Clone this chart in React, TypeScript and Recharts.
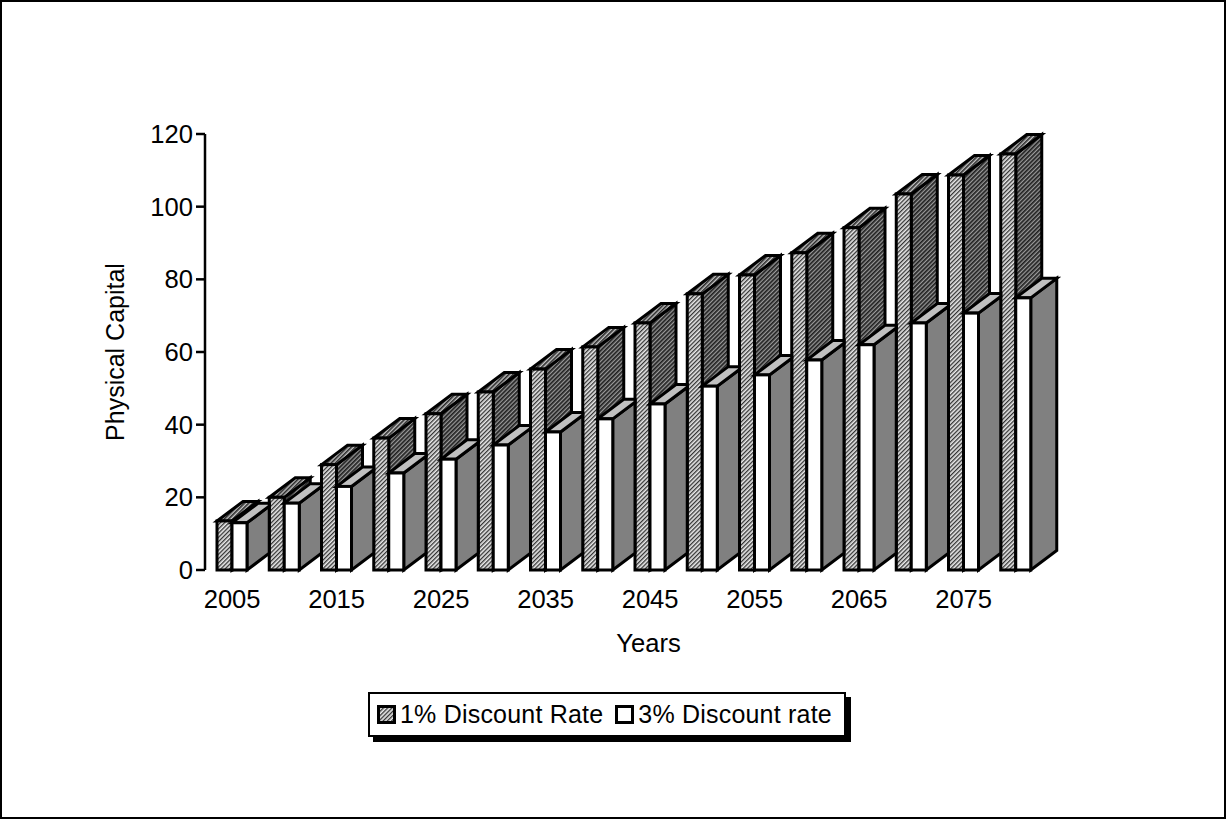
import { ComposedChart, Bar, XAxis, YAxis, Legend, Label } from 'recharts';

const years = [2005, 2010, 2015, 2020, 2025, 2030, 2035, 2040, 2045, 2050, 2055, 2060, 2065, 2070, 2075, 2080];
const rateOne = [13.5, 20, 29, 36.3, 43, 49, 55.3, 61.4, 68, 76, 81.2, 87.3, 94.2, 103.5, 108.7, 114.5];
const rateThree = [13, 18.4, 23, 26.7, 30.5, 34.4, 38, 41.6, 45.7, 50.6, 53.7, 57.8, 62, 68, 70.7, 74.9];
const yTicks = [0, 20, 40, 60, 80, 100, 120];

const data = years.map((year, i) => ({ year, rateOne: rateOne[i], rateThree: rateThree[i] }));

const FONT = '"Liberation Sans", Arial, sans-serif';
const BAR_W = 15;
const DEPTH_X = 26;
const DEPTH_Y = 19.5;
const BAND = 52.25;
const EDGE = 3;

const pts = (list: number[][]) => list.map((p) => p.join(',')).join(' ');

// 1% bars: hatched front, darker hatch on the top and side faces
function HatchedBox({ x, y, width, height }: any) {
  const r = x + width;
  const b = y + height;
  return (
    <g stroke="#000" strokeWidth={EDGE} strokeLinejoin="miter">
      <polygon points={pts([[r, y], [r + DEPTH_X, y - DEPTH_Y], [r + DEPTH_X, b - DEPTH_Y], [r, b]])} fill="url(#hatchSide)" />
      <polygon points={pts([[x, y], [r, y], [r + DEPTH_X, y - DEPTH_Y], [x + DEPTH_X, y - DEPTH_Y]])} fill="url(#hatchTop)" />
      <rect x={x} y={y} width={width} height={height} fill="url(#hatchFront)" />
    </g>
  );
}

// 3% bars: the receding faces stop at the left edge of the next year's bar
function PlainBox({ x, y, width, height, index }: any) {
  const r = x + width;
  const b = y + height;
  const last = index === years.length - 1;
  const dx = last ? DEPTH_X : BAND - 2 * BAR_W;
  const dy = (dx / DEPTH_X) * DEPTH_Y;
  const topFace = last
    ? [[x, y], [r, y], [r + DEPTH_X, y - DEPTH_Y], [x + DEPTH_X, y - DEPTH_Y]]
    : [[x, y], [r, y], [r + dx, y - dy], [r + dx, y - DEPTH_Y], [x + DEPTH_X, y - DEPTH_Y]];
  return (
    <g stroke="#000" strokeWidth={EDGE} strokeLinejoin="miter">
      <polygon points={pts([[r, y], [r + dx, y - dy], [r + dx, b - dy], [r, b]])} fill="#808080" />
      <polygon points={pts(topFace)} fill="#c0c0c0" />
      <rect x={x} y={y} width={width} height={height} fill="#fff" />
    </g>
  );
}

function LegendBox() {
  const item = (fill: string, text: string) => (
    <span style={{ display: 'flex', alignItems: 'center', marginRight: 12 }}>
      <svg width={20} height={20} style={{ marginRight: 3 }}>
        <rect x={1.5} y={1.5} width={16} height={16} fill={fill} stroke="#000" strokeWidth={EDGE} />
      </svg>
      {text}
    </span>
  );
  return (
    <div
      style={{
        boxSizing: 'border-box',
        width: 478,
        height: 45,
        border: '2px solid #000',
        boxShadow: '5px 5px 0 #000',
        background: '#fff',
        display: 'flex',
        alignItems: 'center',
        paddingLeft: 7,
        fontFamily: FONT,
        fontSize: 25,
        letterSpacing: 0.2,
        color: '#000',
      }}
    >
      {item('url(#hatchFront)', '1% Discount Rate')}
      {item('#fff', '3% Discount rate')}
    </div>
  );
}

export default function App() {
  return (
    <div style={{ position: 'fixed', left: 0, top: 0, width: 1226, height: 819, boxSizing: 'border-box', border: '2px solid #000', background: '#fff' }}>
      <svg width={0} height={0} style={{ position: 'absolute' }}>
        <defs>
          <pattern id="hatchFront" width={3} height={3} patternUnits="userSpaceOnUse" patternTransform="rotate(45)">
            <rect width={3} height={3} fill="#e8e8e8" />
            <rect width={1.3} height={3} fill="#333" />
          </pattern>
          <pattern id="hatchTop" width={3} height={3} patternUnits="userSpaceOnUse" patternTransform="rotate(45)">
            <rect width={3} height={3} fill="#c4c4c4" />
            <rect width={1.6} height={3} fill="#2a2a2a" />
          </pattern>
          <pattern id="hatchSide" width={3} height={3} patternUnits="userSpaceOnUse" patternTransform="rotate(45)">
            <rect width={3} height={3} fill="#9a9a9a" />
            <rect width={1.7} height={3} fill="#202020" />
          </pattern>
        </defs>
      </svg>
      <ComposedChart
        width={1222}
        height={815}
        data={data}
        barSize={BAR_W}
        barGap={0}
        margin={{ top: 132, right: 182, bottom: 122, left: 143 }}
        style={{ fontFamily: FONT }}
      >
        <XAxis
          dataKey="year"
          interval={1}
          axisLine={false}
          tickLine={false}
          padding={{ left: 1, right: 0 }}
          height={80}
          tick={{ fill: '#000', fontSize: 25.6 }}
          tickMargin={14}
        >
          <Label value="Years" position="insideBottom" dx={25} offset={-2} fill="#000" fontSize={25.6} />
        </XAxis>
        <YAxis
          domain={[0, 120]}
          ticks={yTicks}
          width={60}
          axisLine={{ stroke: '#000', strokeWidth: 2.5 }}
          tickLine={{ stroke: '#000', strokeWidth: 2.5 }}
          tickSize={9}
          tickMargin={3}
          tick={{ fill: '#000', fontSize: 25.6 }}
        >
          <Label value="Physical Capital" angle={-90} position="center" dx={-60} fill="#000" fontSize={25} />
        </YAxis>
        <Legend
          content={<LegendBox />}
          wrapperStyle={{ left: 366, top: 690, bottom: 'auto', width: 478 }}
        />
        <Bar dataKey="rateOne" name="1% Discount Rate" shape={<HatchedBox />} isAnimationActive={false} />
        <Bar dataKey="rateThree" name="3% Discount rate" shape={<PlainBox />} isAnimationActive={false} />
      </ComposedChart>
    </div>
  );
}
